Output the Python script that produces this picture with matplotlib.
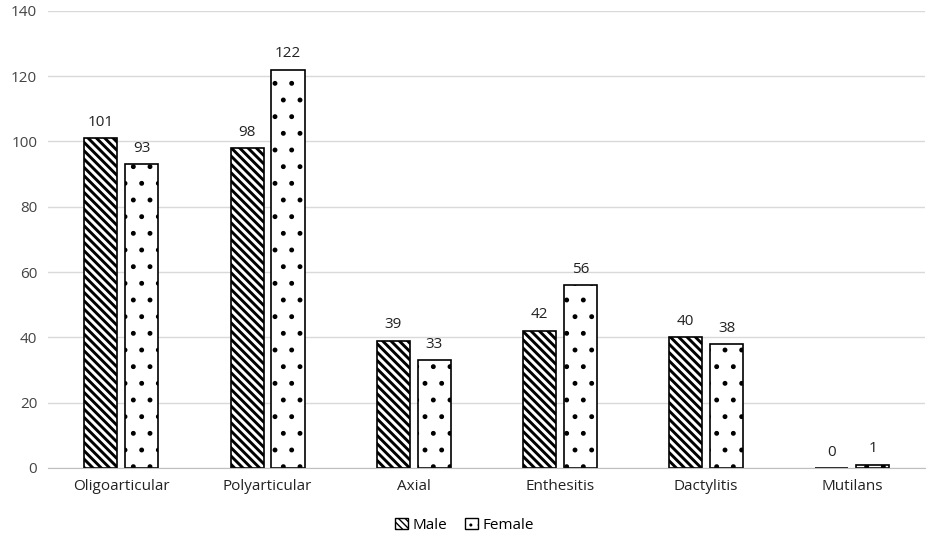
import numpy as np
import matplotlib as mpl
import matplotlib.pyplot as plt
from matplotlib.patches import Patch

categories = ["Oligoarticular", "Polyarticular", "Axial", "Enthesitis", "Dactylitis", "Mutilans"]
male = [101, 98, 39, 42, 40, 0]
female = [93, 122, 33, 56, 38, 1]

plt.rcParams["font.family"] = ["Open Sans", "DejaVu Sans"]

BS = chr(92)
male_hatch = BS * 4
female_hatch = "."

fig = plt.figure(figsize=(9.29, 5.41), dpi=100)
ax = fig.add_axes([0.052, 0.135, 0.944, 0.845])

x = np.arange(len(categories))
w = 0.226
off = 0.14

with mpl.rc_context({"hatch.linewidth": 2.1}):
    b1 = ax.bar(x - off, male, w, facecolor="white", edgecolor="black",
                hatch=male_hatch, linewidth=1.2)
    h1 = Patch(facecolor="white", edgecolor="black", hatch=BS * 5, label="Male")
with mpl.rc_context({"hatch.linewidth": 1.1}):
    b2 = ax.bar(x + off, female, w, facecolor="white", edgecolor="black",
                hatch=female_hatch, linewidth=1.2)
    h2 = Patch(facecolor="white", edgecolor="black", hatch="..", label="Female")

ax.bar_label(b1, padding=6, fontsize=11, color="#222222")
ax.bar_label(b2, padding=6, fontsize=11, color="#222222")

ax.set_xlim(-0.5, len(categories) - 0.5)
ax.set_ylim(0, 140)
ax.set_yticks(range(0, 141, 20))
ax.set_xticks(x)
ax.set_xticklabels(categories, fontsize=11, color="#222222")
ax.tick_params(axis="y", labelsize=11, labelcolor="#444444", length=0, pad=8)
ax.tick_params(axis="x", length=0, pad=8)

ax.yaxis.grid(True, color="#d9d9d9", linewidth=1)
ax.set_axisbelow(True)
for s in ["top", "right", "left"]:
    ax.spines[s].set_visible(False)
ax.spines["bottom"].set_color("#bfbfbf")

fig.legend(handles=[h1, h2], loc="lower center", ncol=2, frameon=False, fontsize=11,
           handlelength=0.8, handleheight=0.8, handletextpad=0.3, columnspacing=1.2,
           bbox_to_anchor=(0.5, -0.01))

fig.savefig("out.png", dpi=100)
